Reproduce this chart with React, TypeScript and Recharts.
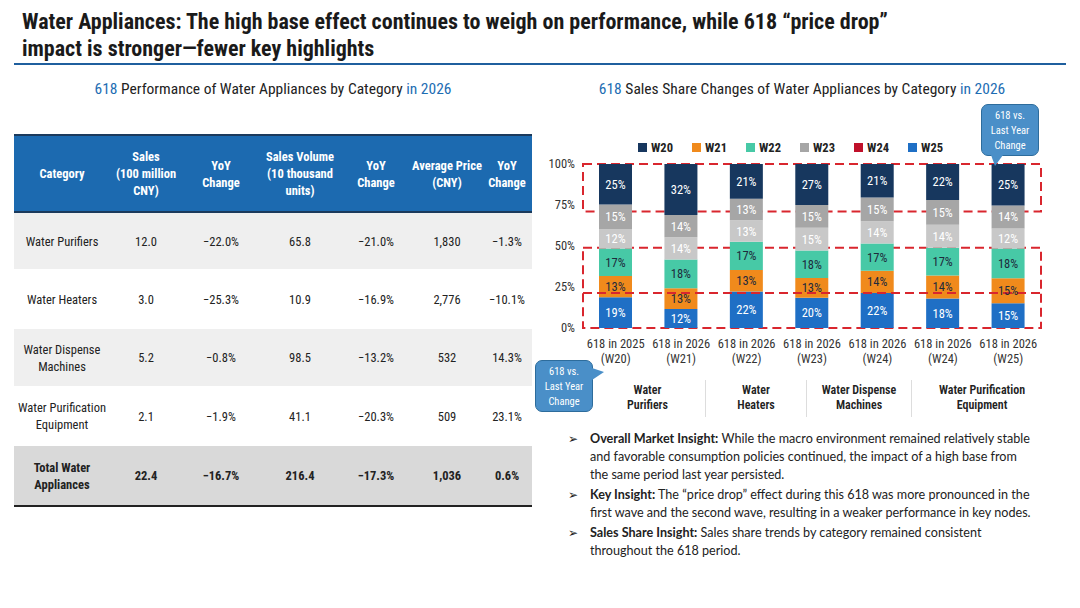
import React from 'react'
import { BarChart, Bar, XAxis, YAxis, Legend, LabelList, ReferenceArea, ReferenceLine } from 'recharts'

// table data (left)
const categories = ['Water Purifiers', 'Water Heaters', 'Water Dispense\nMachines', 'Water Purification\nEquipment', 'Total Water\nAppliances']
const sales = ['12.0', '3.0', '5.2', '2.1', '22.4']
const salesYoY = ['−22.0%', '−25.3%', '−0.8%', '−1.9%', '−16.7%']
const volume = ['65.8', '10.9', '98.5', '41.1', '216.4']
const volumeYoY = ['−21.0%', '−16.9%', '−13.2%', '−20.3%', '−17.3%']
const avgPrice = ['1,830', '2,776', '532', '509', '1,036']
const priceYoY = ['−1.3%', '−10.1%', '14.3%', '23.1%', '0.6%']
const headers = ['Category', 'Sales\n(100 million\nCNY)', 'YoY\nChange', 'Sales Volume\n(10 thousand\nunits)', 'YoY\nChange', 'Average Price\n(CNY)', 'YoY\nChange']

// chart data (right), shares in %, bottom to top
const periods = ['618 in 2025', '618 in 2026', '618 in 2026', '618 in 2026', '618 in 2026', '618 in 2026', '618 in 2026']
const weeks = ['(W20)', '(W21)', '(W22)', '(W23)', '(W24)', '(W24)', '(W25)']
const blueShare = [19, 12, 22, 20, 22, 18, 15]
const orangeShare = [13, 13, 13, 13, 14, 14, 15]
const tealShare = [17, 18, 17, 18, 17, 17, 18]
const lightGrayShare = [12, 14, 13, 15, 14, 14, 12]
const grayShare = [15, 14, 13, 15, 15, 15, 14]
const navyShare = [25, 32, 21, 27, 21, 22, 25]
const yTicks = [0, 0.25, 0.5, 0.75, 1]

const legendNames = ['W20', 'W21', 'W22', 'W23', 'W24', 'W25']
const legendColors = ['#17375e', '#f08a1c', '#47c9a6', '#a6a6a6', '#c0102a', '#1f6fc5']

const groups = [
  { name: 'Water\nPurifiers', width: 115 },
  { name: 'Water\nHeaters', width: 100 },
  { name: 'Water Dispense\nMachines', width: 104 },
  { name: 'Water Purification\nEquipment', width: 140 },
]

const data = periods.map((p, i) => ({
  period: p,
  week: weeks[i],
  blue: blueShare[i],
  orange: orangeShare[i],
  teal: tealShare[i],
  lgray: lightGrayShare[i],
  gray: grayShare[i],
  navy: navyShare[i],
}))

const series = [
  { key: 'blue', color: '#1f6fc5', text: '#ffffff' },
  { key: 'orange', color: '#f08a1c', text: '#1e2b3c' },
  { key: 'teal', color: '#47c9a6', text: '#1e2b3c' },
  { key: 'lgray', color: '#c8c8c8', text: '#ffffff' },
  { key: 'gray', color: '#a6a6a6', text: '#ffffff' },
  { key: 'navy', color: '#17375e', text: '#ffffff' },
]

const FONT = '"Liberation Sans Narrow", "Roboto Condensed", "Arial Narrow", Roboto, sans-serif'
const BLUE = '#1d6db3'

const PeriodTick = (props: any) => {
  const { x, y, payload, index } = props
  return (
    <text x={x} y={y + 12} textAnchor="middle" fontSize={12.5} fill="#333" fontFamily={FONT}>
      <tspan x={x}>{payload.value}</tspan>
      <tspan x={x} dy={15}>{weeks[index]}</tspan>
    </text>
  )
}

const LegendContent = () => (
  <div style={{ display: 'flex', justifyContent: 'center', gap: 19, fontFamily: FONT, fontSize: 12.5, fontWeight: 700, color: '#222' }}>
    {legendNames.map((n, i) => (
      <span key={n} style={{ display: 'flex', alignItems: 'center' }}>
        <span style={{ width: 9, height: 9, background: legendColors[i], marginRight: 4, display: 'inline-block' }} />
        {n}
      </span>
    ))}
  </div>
)

const Callout = ({ left, top, pointer }: { left: number; top: number; pointer: 'down' | 'right' }) => (
  <div style={{ position: 'absolute', left, top, width: 58, height: 52 }}>
    <div style={{ position: 'absolute', inset: 0, background: '#4a8fc8', border: '1.5px solid #2d6c9c', borderRadius: 7, color: '#fff', fontSize: 10.5, lineHeight: '15px', textAlign: 'center', paddingTop: 3, boxSizing: 'border-box', fontFamily: FONT }}>
      618 vs.<br />Last Year<br />Change
    </div>
    {pointer === 'down' ? (
      <div style={{ position: 'absolute', left: 10, top: 51, width: 0, height: 0, borderLeft: '4px solid transparent', borderRight: '8px solid transparent', borderTop: '11px solid #4a8fc8' }} />
    ) : (
      <div style={{ position: 'absolute', left: 57, top: 8, width: 0, height: 0, borderTop: '4px solid transparent', borderBottom: '8px solid transparent', borderLeft: '12px solid #4a8fc8' }} />
    )}
  </div>
)

const rowBg = ['#efefef', '#ffffff', '#efefef', '#ffffff', '#d9d9d9']
const rowH = [57, 60, 57, 60, 60]
const colW = [96, 72, 78, 80, 72, 70, 50]

// insight bullets, wrapped as in the slide
const bullets = [
  { lead: 'Overall Market Insight:', lines: [' While the macro environment remained relatively stable', 'and favorable consumption policies continued, the impact of a high base from', 'the same period last year persisted.'] },
  { lead: 'Key Insight:', lines: [' The “price drop” effect during this 618 was more pronounced in the', 'first wave and the second wave, resulting in a weaker performance in key nodes.'] },
  { lead: 'Sales Share Insight:', lines: [' Sales share trends by category remained consistent', 'throughout the 618 period.'] },
]

export default function App() {
  return (
    <div style={{ position: 'absolute', left: 0, top: 0, width: 1080, height: 608, background: '#fff', fontFamily: FONT, color: '#222', overflow: 'hidden' }}>
      {/* title */}
      <div style={{ position: 'absolute', left: 22, top: 8, fontSize: 22, fontWeight: 700, lineHeight: '27px', color: '#1a1a1a' }}>
        Water Appliances: The high base effect continues to weigh on performance, while 618 “price drop”<br />
        impact is stronger—fewer key highlights
      </div>
      <div style={{ position: 'absolute', left: 14, top: 63, width: 1052, height: 2, background: '#1f5f9e' }} />

      <div style={{ position: 'absolute', left: 14, top: 80, width: 518, textAlign: 'center', fontSize: 15.5, color: '#222' }}>
        <span style={{ color: BLUE }}>618</span> Performance of Water Appliances by Category <span style={{ color: BLUE }}>in 2026</span>
      </div>
      <div style={{ position: 'absolute', left: 540, top: 80, width: 524, textAlign: 'center', fontSize: 15.5, color: '#222' }}>
        <span style={{ color: BLUE }}>618</span> Sales Share Changes of Water Appliances by Category <span style={{ color: BLUE }}>in 2026</span>
      </div>

      {/* table */}
      <table style={{ position: 'absolute', left: 14, top: 134, width: 518, borderCollapse: 'collapse', fontSize: 12.5, borderTop: '2px solid #1b3a5c', borderBottom: '2px solid #222' }}>
        <thead>
          <tr style={{ background: '#1c6ab0', height: 77 }}>
            {headers.map((h, i) => (
              <th key={i} style={{ width: colW[i], color: '#fff', fontWeight: 700, whiteSpace: 'pre-line', lineHeight: '17px', padding: 0, borderBottom: '2px solid #1b3a5c' }}>{h}</th>
            ))}
          </tr>
        </thead>
        <tbody>
          {categories.map((c, r) => {
            const cells = [c, sales[r], salesYoY[r], volume[r], volumeYoY[r], avgPrice[r], priceYoY[r]]
            const total = r === categories.length - 1
            return (
              <tr key={r} style={{ background: rowBg[r], height: rowH[r] }}>
                {cells.map((v, i) => (
                  <td key={i} style={{ textAlign: 'center', whiteSpace: 'pre-line', lineHeight: '17px', padding: 0, fontWeight: total ? 700 : 400, color: '#222' }}>{v}</td>
                ))}
              </tr>
            )
          })}
        </tbody>
      </table>

      {/* stacked share chart */}
      <div style={{ position: 'absolute', left: 540, top: 130 }}>
        <BarChart width={530} height={240} data={data} stackOffset="expand" margin={{ top: 10, right: 29, left: 0, bottom: 0 }} barSize={33}>
          <Legend verticalAlign="top" height={24} content={<LegendContent />} />
          <XAxis dataKey="period" axisLine={false} tickLine={false} height={42} tick={<PeriodTick />} interval={0} />
          <YAxis ticks={yTicks} domain={[0, 1]} tickFormatter={(v: number) => `${Math.round(v * 100)}%`} axisLine={false} tickLine={false} width={43} tick={{ fontSize: 12.5, fill: '#333', fontFamily: FONT }} />
          {series.map((s) => (
            <Bar key={s.key} dataKey={s.key} stackId="a" fill={s.color} isAnimationActive={false}>
              <LabelList dataKey={s.key} position="center" formatter={(v: any) => `${v}%`} fill={s.text} fontSize={12.5} fontFamily={FONT} />
            </Bar>
          ))}
          <ReferenceArea y1={0.71} y2={1} fill="none" stroke="#d9262e" strokeWidth={2} strokeDasharray="9 5" ifOverflow="visible" />
          <ReferenceArea y1={0} y2={0.49} fill="none" stroke="#d9262e" strokeWidth={2} strokeDasharray="9 5" ifOverflow="visible" />
          <ReferenceLine y={0.213} stroke="#d9262e" strokeWidth={2} strokeDasharray="9 5" />
        </BarChart>
      </div>

      <Callout left={981} top={104} pointer="down" />
      <Callout left={535} top={360} pointer="right" />

      {/* category groups */}
      <div style={{ position: 'absolute', left: 590, top: 380, display: 'flex' }}>
        {groups.map((g, i) => (
          <div key={i} style={{ width: g.width, textAlign: 'center', whiteSpace: 'pre-line', fontSize: 12, fontWeight: 600, lineHeight: '15px', color: '#222', borderLeft: i > 0 ? '1px solid #ddd' : 'none', paddingTop: 3, height: 34 }}>{g.name}</div>
        ))}
      </div>

      {/* insights */}
      <div style={{ position: 'absolute', left: 568, top: 430, width: 500, fontFamily: 'Lato, "Open Sans", sans-serif', fontSize: 12.6, lineHeight: '18.2px', color: '#222', whiteSpace: 'nowrap' }}>
        {bullets.map((b, i) => (
          <div key={i} style={{ position: 'relative', paddingLeft: 22, marginTop: i > 0 ? 1.5 : 0 }}>
            <span style={{ position: 'absolute', left: 0, top: 0, fontSize: 11.5 }}>➢</span>
            {b.lines.map((l, j) => (
              <div key={j}>{j === 0 && <b>{b.lead}</b>}{l}</div>
            ))}
          </div>
        ))}
      </div>
    </div>
  )
}
